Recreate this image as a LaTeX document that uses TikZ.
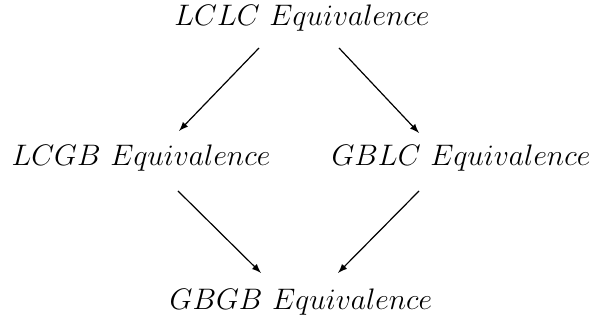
\documentclass[tikz,border=0pt]{standalone}
\usetikzlibrary{arrows}
\begin{document}
\begin{tikzpicture}[x=0.5pt,y=-0.5pt,
  lbl/.style={inner sep=0pt, anchor=base, font=\Large},
  arr/.style={-latex, line width=0.6pt}]
\useasboundingbox (0,0) rectangle (590,325);
\node[lbl] (t) at (302,26) {\scalebox{1.03}{$LCLC\ Equivalence$}};
\node[lbl] (l) at (141,166) {\scalebox{1.03}{$LCGB\ Equivalence$}};
\node[lbl] (r) at (461,166) {\scalebox{1.03}{$GBLC\ Equivalence$}};
\node[lbl] (b) at (301,310) {\scalebox{1.03}{$GBGB\ Equivalence$}};
\coordinate (t1) at (259,48);
\coordinate (t2) at (339,48);
\coordinate (l1) at (179,131);
\coordinate (r1) at (419,133);
\coordinate (l2) at (178,191);
\coordinate (r2) at (419,191);
\coordinate (b1) at (261,273);
\coordinate (b2) at (338,273);
\draw[arr] (t1) -- (l1);
\draw[arr] (t2) -- (r1);
\draw[arr] (l2) -- (b1);
\draw[arr] (r2) -- (b2);
\end{tikzpicture}
\end{document}
